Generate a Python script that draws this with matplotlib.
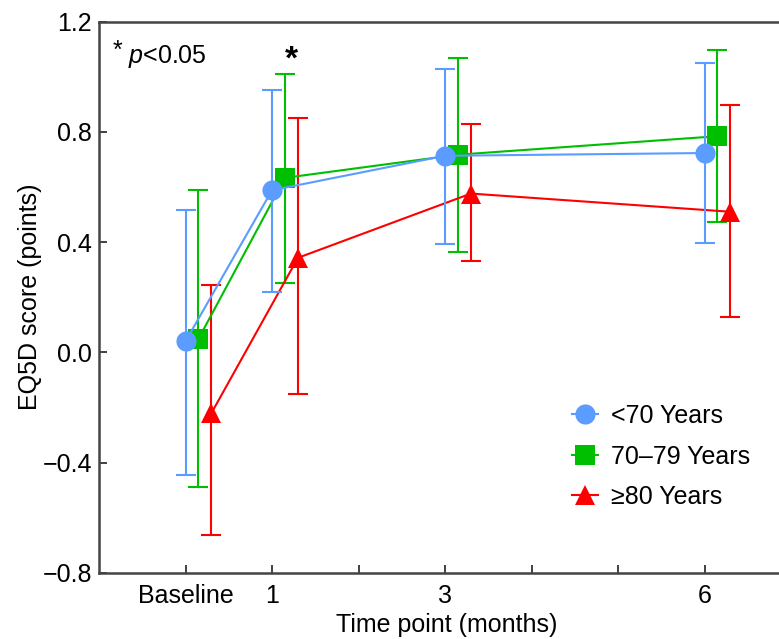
import numpy as np
import matplotlib
matplotlib.use("Agg")
import matplotlib.pyplot as plt
from matplotlib.lines import Line2D

plt.rcParams['font.family'] = ['Liberation Sans', 'DejaVu Sans']
plt.rcParams['mathtext.fontset'] = 'custom'
plt.rcParams['mathtext.rm'] = 'Liberation Sans'
plt.rcParams['mathtext.it'] = 'Liberation Sans:italic'

# --- data ---
months = [0, 1, 3, 6]
tick_labels = ['Baseline', '1', '', '3', '', '', '6']
groups = ['<70 Years', '70\u201379 Years', '\u226580 Years']

young_mean = [0.04, 0.588, 0.713, 0.723]
young_upper = [0.518, 0.953, 1.028, 1.048]
young_lower = [-0.444, 0.219, 0.394, 0.398]

mid_mean = [0.049, 0.633, 0.717, 0.784]
mid_upper = [0.59, 1.008, 1.068, 1.098]
mid_lower = [-0.489, 0.252, 0.365, 0.472]

old_mean = [-0.22, 0.343, 0.576, 0.51]
old_upper = [0.245, 0.85, 0.829, 0.899]
old_lower = [-0.662, -0.15, 0.33, 0.13]

colors = ['#5a9cff', '#00bf00', '#ff0000']
markers = ['o', 's', '^']
msizes = [14.5, 15, 14]
offsets = [0.0, 0.15, 0.3]

series = [
    (young_mean, young_upper, young_lower),
    (mid_mean, mid_upper, mid_lower),
    (old_mean, old_upper, old_lower),
]

fig = plt.figure(figsize=(7.79, 6.39), dpi=100)
ax = fig.add_axes([99 / 779, 1 - 573 / 639, 692 / 779, 551.5 / 639])

# green first, then red, blue on top
for i in [1, 2, 0]:
    mean, up, lo = series[i]
    x = np.array(months) + offsets[i]
    mean = np.array(mean)
    yerr = [mean - np.array(lo), np.array(up) - mean]
    line, caps, bars = ax.errorbar(x, mean, yerr=yerr, fmt='-', marker=markers[i],
                                   color=colors[i], ms=msizes[i], lw=1.5,
                                   elinewidth=1.5, capsize=7.2, capthick=1.5,
                                   zorder=3 + (i == 0))
    line.set_markeredgewidth(0)

ax.set_xlim(-1, 7)
ax.set_ylim(-0.8, 1.2)
ax.set_xticks(range(0, 7))
ax.set_xticklabels(tick_labels)
ax.set_yticks([-0.8, -0.4, 0.0, 0.4, 0.8, 1.2])
ax.set_yticklabels(['\u22120.8', '\u22120.4', '0.0', '0.4', '0.8', '1.2'])
ax.tick_params(axis='both', direction='in', length=6, width=1.3, colors='#333333',
               labelcolor='black', labelsize=18)
ax.tick_params(axis='x', pad=8)
ax.tick_params(axis='y', pad=5)

for s in ['left', 'bottom', 'top']:
    ax.spines[s].set_linewidth(1.8)
    ax.spines[s].set_color('#444444')
ax.spines['right'].set_visible(False)

ax.set_xlabel('Time point (months)', fontsize=18)
ax.set_ylabel('EQ5D score (points)', fontsize=18)
ax.xaxis.set_label_coords(0.503, -0.072)
ax.yaxis.set_label_coords(-0.082, 0.5)

ax.text(-0.84, 1.069, '*', fontsize=18, va='baseline', ha='left')
ax.text(-0.66, 1.051, r'$p$<0.05', fontsize=18, va='baseline', ha='left')
ax.text(1.22, 1.06, '*', fontsize=24, fontweight='bold', ha='center', va='center')

handles = [Line2D([], [], color=colors[i], marker=markers[i], ms=msizes[i],
                  lw=1.5, markeredgewidth=0) for i in range(3)]
ax.legend(handles, groups, frameon=False, fontsize=18, handlelength=1.05,
          handletextpad=0.5, labelspacing=0.66, borderpad=0, borderaxespad=0,
          loc='upper left', bbox_to_anchor=(572 / 779, 1 - 404 / 639),
          bbox_transform=fig.transFigure)

fig.savefig('out.png', dpi=100)
